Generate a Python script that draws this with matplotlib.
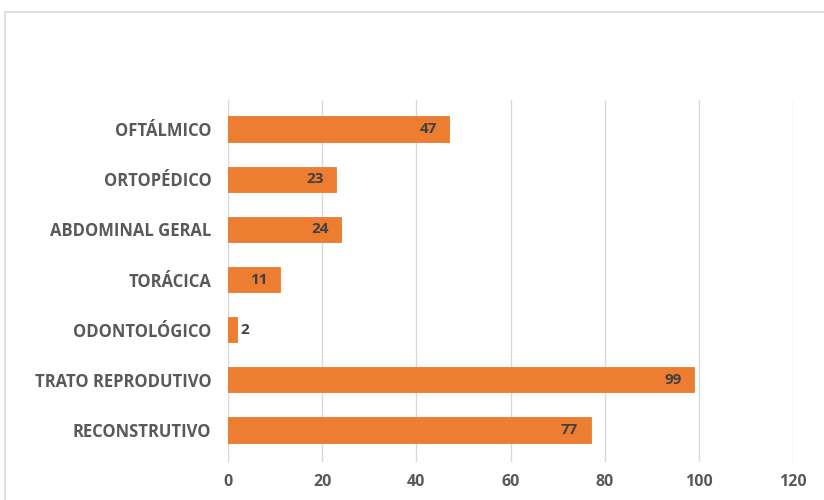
import matplotlib
matplotlib.use("Agg")
import matplotlib.pyplot as plt
from matplotlib.patches import Rectangle

# Dados (de cima para baixo)
categorias = ["OFTÁLMICO", "ORTOPÉDICO", "ABDOMINAL GERAL", "TORÁCICA",
              "ODONTOLÓGICO", "TRATO REPRODUTIVO", "RECONSTRUTIVO"]
valores = [47, 23, 24, 11, 2, 99, 77]
ticks_x = [0, 20, 40, 60, 80, 100, 120]

plt.rcParams['font.family'] = ['Open Sans', 'DejaVu Sans']

fig = plt.figure(figsize=(8.24, 5), dpi=100)
# moldura do gráfico (cortada à direita e embaixo)
fig.patches.append(Rectangle((5 / 824, -0.1), 1.0, 1 - 12 / 500 + 0.1,
                             transform=fig.transFigure, fill=False,
                             edgecolor='#d9d9d9', linewidth=1.2))

ax = fig.add_axes([228 / 824, 1 - 462 / 500, 565 / 824, 362 / 500])
pos = list(range(len(categorias)))[::-1]
ax.barh(pos, valores, height=0.5, color='#ED7D31', edgecolor='#e36f20', linewidth=0.5, zorder=3)

for p, v in zip(pos, valores):
    if v < 5:
        ax.text(v + 0.6, p, str(v), ha='left', va='center', fontsize=11,
                fontweight='bold', color='#404040', zorder=4)
    else:
        ax.text(v - 2.6, p, str(v), ha='right', va='center', fontsize=11,
                fontweight='bold', color='#404040', zorder=4)

ax.set_xlim(0, 120)
ax.set_ylim(-0.637, 6.578)
ax.set_xticks(ticks_x)
ax.set_yticks(pos)
ax.set_yticklabels(categorias)
ax.xaxis.grid(True, color='#d9d9d9', linewidth=1, zorder=0)
for s in ['top', 'right', 'bottom']:
    ax.spines[s].set_visible(False)
ax.spines['left'].set_color('#d9d9d9')
ax.tick_params(axis='y', length=0, pad=12, labelsize=12, labelcolor='#595959')
ax.tick_params(axis='x', length=0, pad=9, labelsize=11.5, labelcolor='#595959')
for t in ax.get_yticklabels() + ax.get_xticklabels():
    t.set_fontweight('bold')

plt.savefig("out.png", dpi=100)
plt.close()
